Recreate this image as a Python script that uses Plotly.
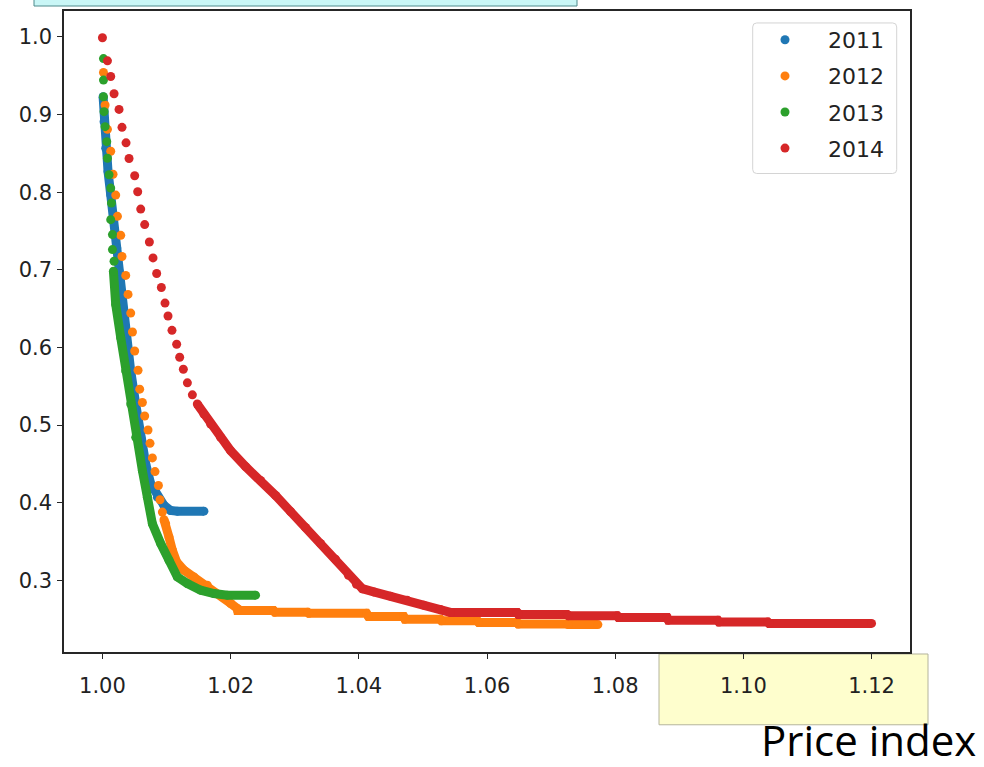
import plotly.graph_objects as go

# ---------------- data ----------------
years = ["2011", "2012", "2013", "2014"]
colors = ["#1f77b4", "#ff7f0e", "#2ca02c", "#d62728"]

# 2011: dense band only
x_2011_dots = []
y_2011_dots = []
x_2011_band = [1.0001, 1.00025, 1.00051, 1.00087, 1.00129, 1.00171, 1.00223, 1.00259, 1.00312, 1.00363,
               1.00441, 1.00519, 1.00597, 1.00675, 1.00753, 1.00857, 1.00960, 1.01064, 1.01169, 1.01583]
y_2011_band = [0.9229, 0.8908, 0.8565, 0.8266, 0.7967, 0.7624, 0.7281, 0.6982, 0.6554, 0.6125,
               0.5697, 0.5270, 0.4841, 0.4499, 0.4242, 0.4070, 0.3964, 0.3899, 0.3890, 0.3890]

# 2012
x_2012_dots = [1.00016, 1.00041, 1.00078, 1.00129, 1.00165, 1.00207, 1.00234, 1.00285, 1.00305, 1.00363,
               1.00399, 1.00441, 1.00468, 1.00503, 1.00555, 1.00581, 1.00623, 1.00659, 1.00711, 1.00742,
               1.00779, 1.00820, 1.00873, 1.00898, 1.00935]
y_2012_dots = [0.9541, 0.9123, 0.8809, 0.8527, 0.8231, 0.7962, 0.7688, 0.7444, 0.7171, 0.6927,
               0.6683, 0.6442, 0.6198, 0.5954, 0.5706, 0.5462, 0.5290, 0.5116, 0.4936, 0.4764,
               0.4576, 0.4400, 0.4220, 0.4037, 0.3878]
x_2012_band = [1.00960, 1.00986, 1.01038, 1.01091, 1.01158, 1.01272, 1.01427, 1.01636, 1.01844, 1.02000,
               1.02104, 1.0211, 1.0267, 1.0269, 1.0320, 1.0322, 1.0412, 1.0415, 1.0470, 1.0472,
               1.0527, 1.0529, 1.0585, 1.0587, 1.0647, 1.0649, 1.0725, 1.0727, 1.0773]
y_2012_band = [0.3780, 0.3728, 0.3556, 0.3386, 0.3235, 0.3129, 0.3043, 0.2936, 0.2808, 0.2701,
               0.2637, 0.2609, 0.2609, 0.2589, 0.2589, 0.2574, 0.2574, 0.2532, 0.2532, 0.2499,
               0.2499, 0.2478, 0.2478, 0.2457, 0.2457, 0.2435, 0.2435, 0.2429, 0.2429]

# 2013
x_2013_dots = [1.00016, 1.00016, 1.00016, 1.00025, 1.00041, 1.00067, 1.00078, 1.00103, 1.00129, 1.00140,
               1.00129, 1.00156, 1.00156, 1.00181]
y_2013_dots = [0.9721, 0.9444, 0.9229, 0.9037, 0.8844, 0.8651, 0.8437, 0.8224, 0.8052, 0.7859,
               0.7646, 0.7453, 0.7260, 0.7110]
x_2013_band = [1.00171, 1.00207, 1.00285, 1.00363, 1.00441, 1.00519, 1.00623, 1.00701, 1.00779, 1.00909,
               1.01038, 1.01169, 1.01325, 1.01532, 1.01739, 1.01948, 1.02389]
y_2013_band = [0.6982, 0.6554, 0.6125, 0.5697, 0.5270, 0.4841, 0.4413, 0.4070, 0.3728, 0.3472,
               0.3257, 0.3043, 0.2958, 0.2872, 0.2829, 0.2808, 0.2808]

# 2014
x_2014_dots = [1.0000, 1.00078, 1.00129, 1.00181, 1.00259, 1.00305, 1.00368, 1.00415, 1.00503, 1.00550,
               1.00597, 1.00659, 1.00732, 1.00789, 1.00846, 1.00919, 1.00976, 1.01023, 1.01085, 1.01158,
               1.01205, 1.01262, 1.01325, 1.01403]
y_2014_dots = [0.9990, 0.9692, 0.9490, 0.9268, 0.9066, 0.8835, 0.8635, 0.8433, 0.8211, 0.8005,
               0.7782, 0.7582, 0.7358, 0.7153, 0.6952, 0.6772, 0.6571, 0.6404, 0.6220, 0.6040,
               0.5873, 0.5719, 0.5543, 0.5389]
x_2014_band = [1.01480, 1.01583, 1.01688, 1.01843, 1.01999, 1.02233, 1.02467, 1.02701, 1.02934, 1.03168,
               1.03402, 1.03636, 1.03838, 1.03963, 1.04056, 1.04233, 1.04493, 1.04753, 1.05012, 1.05272,
               1.0543, 1.0647, 1.0649, 1.0725, 1.0727, 1.0803, 1.0805, 1.0881, 1.0883, 1.0960,
               1.0962, 1.1038, 1.1040, 1.1200]
y_2014_band = [0.5270, 0.5141, 0.5013, 0.4841, 0.4670, 0.4464, 0.4285, 0.4092, 0.3886, 0.3681,
               0.3475, 0.3270, 0.3064, 0.2948, 0.2891, 0.2850, 0.2795, 0.2743, 0.2679, 0.2624,
               0.2585, 0.2585, 0.2560, 0.2560, 0.2544, 0.2544, 0.2521, 0.2521, 0.2486, 0.2486,
               0.2461, 0.2461, 0.2444, 0.2444]

x_ticks = [1.00, 1.02, 1.04, 1.06, 1.08, 1.10, 1.12]
y_ticks = [0.3, 0.4, 0.5, 0.6, 0.7, 0.8, 0.9, 1.0]
x_title = "Price index"

series = [
    (x_2011_dots, y_2011_dots, x_2011_band, y_2011_band),
    (x_2012_dots, y_2012_dots, x_2012_band, y_2012_band),
    (x_2013_dots, y_2013_dots, x_2013_band, y_2013_band),
    (x_2014_dots, y_2014_dots, x_2014_band, y_2014_band),
]

# ---------------- figure ----------------
W, H = 984, 767
L, R, T, B = 64, 74, 9, 115
pw, ph = W - L - R, H - T - B


def px2paper_x(px):
    return (px - L) / pw


def px2paper_y(py):
    return (H - B - py) / ph


fig = go.Figure()
MS = 9
for name, col, (xd, yd, xb, yb) in zip(years, colors, series):
    fig.add_trace(go.Scatter(x=xb, y=yb, mode="lines", line=dict(color=col, width=MS),
                             hoverinfo="skip", showlegend=False, legendgroup=name))
    fig.add_trace(go.Scatter(x=xd + xb, y=yd + yb, mode="markers", name=name, legendgroup=name,
                             marker=dict(color=col, size=MS, line=dict(width=0))))

axis_font = dict(family="DejaVu Sans", size=21, color="#222222")
fig.update_xaxes(range=[0.994, 1.126], tickvals=x_ticks, ticktext=[f"{v:.2f}" for v in x_ticks],
                 showgrid=False, zeroline=False, showline=True, mirror=True,
                 linecolor="#262626", linewidth=1.5, ticks="outside", ticklen=5, tickwidth=1.3,
                 tickcolor="#262626", tickfont=axis_font, ticklabelstandoff=9)
fig.update_yaxes(range=[0.20755, 1.0334], tickvals=y_ticks, ticktext=[f"{v:.1f}" for v in y_ticks],
                 showgrid=False, zeroline=False, showline=True, mirror=True,
                 linecolor="#262626", linewidth=1.5, ticks="outside", ticklen=5, tickwidth=1.3,
                 tickcolor="#262626", tickfont=axis_font, ticklabelstandoff=1)

# legend frame (rounded rectangle)
lx0, lx1 = px2paper_x(752.7), px2paper_x(896.7)
ly0, ly1 = px2paper_y(172), px2paper_y(21)
rx, ry = 4 / pw, 4 / ph
legend_path = (f"M {lx0+rx},{ly1} L {lx1-rx},{ly1} Q {lx1},{ly1} {lx1},{ly1-ry} "
               f"L {lx1},{ly0+ry} Q {lx1},{ly0} {lx1-rx},{ly0} L {lx0+rx},{ly0} "
               f"Q {lx0},{ly0} {lx0},{ly0+ry} L {lx0},{ly1-ry} Q {lx0},{ly1} {lx0+rx},{ly1} Z")

shapes = [
    dict(type="rect", xref="paper", yref="paper", x0=px2paper_x(34), x1=px2paper_x(577),
         y0=px2paper_y(4), y1=px2paper_y(-5), fillcolor="#c9f6f6",
         line=dict(color="#4f8a8c", width=1), layer="above"),
    dict(type="rect", xref="paper", yref="paper", x0=px2paper_x(659), x1=px2paper_x(928),
         y0=px2paper_y(725), y1=px2paper_y(654), fillcolor="#fefecd",
         line=dict(color="#b4b49c", width=1), layer="below"),
    dict(type="path", xref="paper", yref="paper", path=legend_path, fillcolor="rgba(255,255,255,0.8)",
         line=dict(color="#d4d4d4", width=1), layer="above"),
]

fig.update_layout(
    width=W, height=H, autosize=False,
    margin=dict(l=L, r=R, t=T, b=B, pad=0),
    paper_bgcolor="white", plot_bgcolor="white",
    shapes=shapes,
    showlegend=True,
    legend=dict(x=px2paper_x(742), y=px2paper_y(17), xanchor="left", yanchor="top",
                bgcolor="rgba(0,0,0,0)", borderwidth=0, itemwidth=76,
                font=dict(family="DejaVu Sans", size=22, color="#222222"),
                traceorder="grouped", tracegroupgap=4.5),
    annotations=[dict(text=x_title, xref="paper", yref="paper", x=px2paper_x(978), y=px2paper_y(740),
                      xanchor="right", yanchor="middle", showarrow=False,
                      font=dict(family="Open Sans", size=42, color="#000000"))],
)

fig.write_html("out.html", config={"displayModeBar": False},
               post_script="document.body.style.margin='0';document.body.style.overflow='hidden';")
